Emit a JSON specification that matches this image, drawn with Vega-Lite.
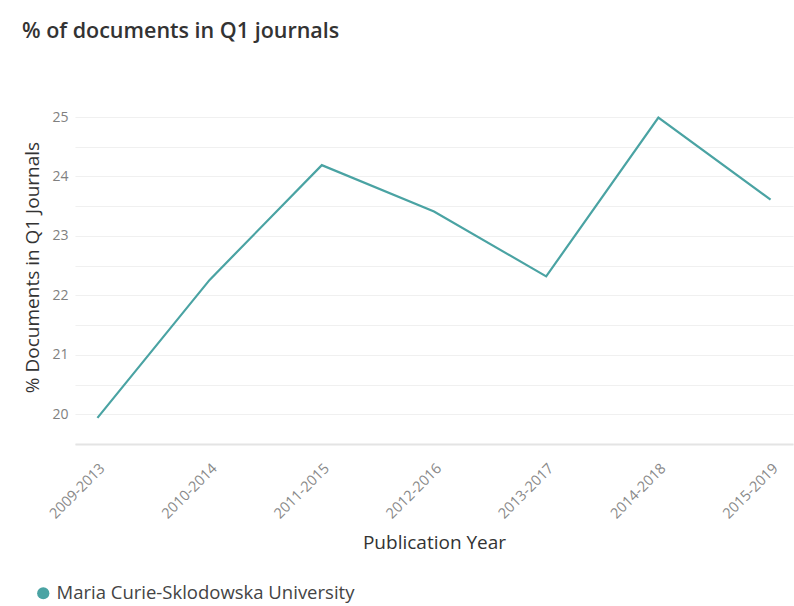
{
  "$schema": "https://vega.github.io/schema/vega-lite/v6.json",
  "autosize": {"type": "none"},
  "width": 718,
  "height": 327,
  "padding": {"left": 75, "top": 117, "right": 1, "bottom": 162},
  "background": "white",
  "config": {
    "font": "Open Sans",
    "view": {"stroke": null}
  },
  "title": {
    "text": "% of documents in Q1 journals",
    "anchor": "start",
    "frame": "group",
    "dx": -53,
    "offset": 68,
    "fontSize": 21.5,
    "fontWeight": 600,
    "color": "#333333"
  },
  "data": {
    "values": [
      {"Period": "2009-2013", "Percent": 19.94, "Institution": "Maria Curie-Sklodowska University"},
      {"Period": "2010-2014", "Percent": 22.26, "Institution": "Maria Curie-Sklodowska University"},
      {"Period": "2011-2015", "Percent": 24.19, "Institution": "Maria Curie-Sklodowska University"},
      {"Period": "2012-2016", "Percent": 23.41, "Institution": "Maria Curie-Sklodowska University"},
      {"Period": "2013-2017", "Percent": 22.32, "Institution": "Maria Curie-Sklodowska University"},
      {"Period": "2014-2018", "Percent": 24.99, "Institution": "Maria Curie-Sklodowska University"},
      {"Period": "2015-2019", "Percent": 23.61, "Institution": "Maria Curie-Sklodowska University"}
    ]
  },
  "mark": {"type": "line", "strokeWidth": 2.2},
  "encoding": {
    "x": {
      "field": "Period",
      "type": "ordinal",
      "scale": {"type": "point", "padding": 0.2},
      "axis": {
        "title": "Publication Year",
        "titleFontSize": 19,
        "titleFontWeight": "normal",
        "titleColor": "#333333",
        "titlePadding": 13,
        "labelAngle": -45,
        "labelFontSize": 14.5,
        "labelColor": "#888888",
        "labelPadding": 17,
        "ticks": false,
        "domainColor": "#e4e4e4",
        "domainWidth": 2,
        "grid": false
      }
    },
    "y": {
      "field": "Percent",
      "type": "quantitative",
      "scale": {"domain": [19.5, 25], "zero": false, "nice": false},
      "axis": {
        "title": "% Documents in Q1 Journals",
        "titleFontSize": 19,
        "titleFontWeight": "normal",
        "titleColor": "#333333",
        "titlePadding": 9,
        "titleY": 150,
        "values": [19.5, 20, 20.5, 21, 21.5, 22, 22.5, 23, 23.5, 24, 24.5, 25],
        "labelExpr": "datum.value % 1 == 0 ? format(datum.value, 'd') : ''",
        "labelFontSize": 14,
        "labelColor": "#808080",
        "labelPadding": 7,
        "ticks": false,
        "domain": false,
        "gridColor": "#f0f0f0",
        "gridWidth": 1.2
      }
    },
    "color": {
      "field": "Institution",
      "type": "nominal",
      "scale": {"range": ["#4aa3a3"]},
      "legend": {
        "title": null,
        "orient": "none",
        "legendX": -41,
        "legendY": 467,
        "symbolType": "circle",
        "symbolSize": 150,
        "labelFontSize": 18.5,
        "labelLimit": 500,
        "labelColor": "#444444",
        "encode": {"symbols": {"update": {"fill": {"value": "#4aa3a3"}, "strokeWidth": {"value": 0}}}}
      }
    }
  }
}
